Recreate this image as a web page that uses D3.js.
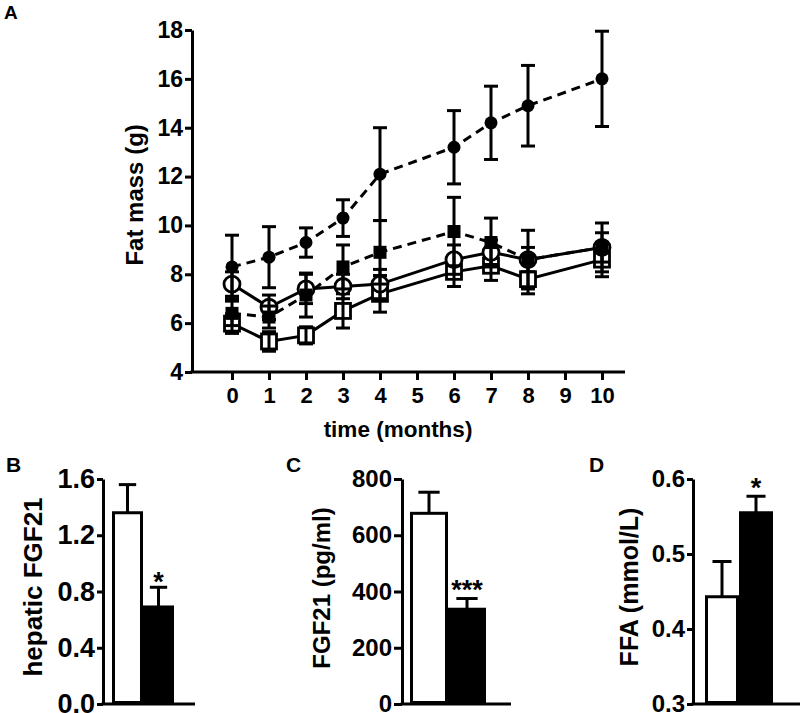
<!DOCTYPE html>
<html>
<head>
<meta charset="utf-8">
<title>Fat mass and FGF21</title>
<script src="https://d3js.org/d3.v7.min.js"></script>
<style>
  body { margin: 0; background: #fff; }
  text { font-family: "Liberation Sans", Arial, sans-serif; font-weight: bold; fill: #000; }
  .axis path, .axis line { stroke: #000; stroke-width: 3; fill: none; }
</style>
</head>
<body>
<script>
var w = 800, h = 713;

// panel A : fat mass over time
var months = [0, 1, 2, 3, 4, 6, 7, 8, 10];
var monthTicks = [0, 1, 2, 3, 4, 5, 6, 7, 8, 9, 10];
var fatTicks = [4, 6, 8, 10, 12, 14, 16, 18];
var filledCircle    = [8.3, 8.7, 9.3, 10.3, 12.1, 13.2, 14.2, 14.9, 16.0];
var filledCircleErr = [1.3, 1.25, 0.6, 0.75, 1.9, 1.5, 1.5, 1.65, 1.95];
var filledSquare    = [6.4, 6.25, 7.15, 8.3, 8.9, 9.75, 9.3, 8.6, 9.1];
var filledSquareErr = [0.5, 0.45, 0.9, 0.9, 1.3, 1.4, 1.0, 1.2, 1.0];
var openCircle      = [7.6, 6.65, 7.4, 7.5, 7.6, 8.6, 8.9, 8.6, 9.1];
var openCircleErr   = [0.5, 0.5, 0.6, 0.5, 0.6, 0.6, 0.5, 0.5, 0.6];
var openSquare      = [5.98, 5.25, 5.5, 6.5, 7.2, 8.1, 8.35, 7.8, 8.6];
var openSquareErr   = [0.4, 0.4, 0.35, 0.7, 0.75, 0.6, 0.6, 0.6, 0.7];

// panels B-D : two groups each
var groups = ["control", "treated"];
var groupFill = ["#fff", "#000"];
var hepaticFGF21 = [1.36, 0.69];
var hepaticFGF21Err = [0.2, 0.14];
var hepaticStars = ["", "*"];
var hepaticTicks = [0, 0.4, 0.8, 1.2, 1.6];
var plasmaFGF21 = [678, 337];
var plasmaFGF21Err = [75, 38];
var plasmaStars = ["", "***"];
var plasmaTicks = [0, 200, 400, 600, 800];
var ffa = [0.443, 0.555];
var ffaErr = [0.047, 0.022];
var ffaStars = ["", "*"];
var ffaTicks = [0.3, 0.4, 0.5, 0.6];

var svg = d3.select("body").append("svg")
  .attr("width", w)
  .attr("height", h);

// ---------- panel A ----------
var axisXA = 192;
var xA = d3.scaleLinear().domain([0, 10]).range([232, 602]);
var yA = d3.scaleLinear().domain([4, 18]).range([372, 30]);

svg.append("text").text("A").attr("x", 4).attr("y", 19).attr("font-size", 19);

var yAxisA = svg.append("g").attr("class", "axis")
  .attr("transform", "translate(" + axisXA + ",0)")
  .call(d3.axisLeft(yA).tickValues(fatTicks).tickSize(7).tickSizeOuter(0).tickPadding(2));
yAxisA.selectAll("text").attr("font-size", 23).style("font-family", "Liberation Sans").style("font-weight", "bold");

var xAxisA = svg.append("g").attr("class", "axis")
  .attr("transform", "translate(0," + yA(4) + ")")
  .call(d3.axisBottom(xA).tickValues(monthTicks).tickSize(8).tickPadding(7));
xAxisA.select(".domain").remove();
xAxisA.selectAll("text").attr("font-size", 22).style("font-family", "Liberation Sans").style("font-weight", "bold");
xAxisA.append("line")
  .attr("x1", axisXA - 1.5).attr("x2", xA(10) + 23)
  .attr("y1", 0).attr("y2", 0)
  .attr("stroke", "#000").attr("stroke-width", 3);

svg.append("text").text("Fat mass (g)")
  .attr("transform", "translate(143," + yA(11.25) + ") rotate(-90)")
  .attr("text-anchor", "middle").attr("font-size", 24);
svg.append("text").text("time (months)")
  .attr("x", 398).attr("y", 437)
  .attr("text-anchor", "middle").attr("font-size", 22.5);

var seriesA = [
  { vals: openSquare, err: openSquareErr, shape: "square", filled: false, dash: null },
  { vals: openCircle, err: openCircleErr, shape: "circle", filled: false, dash: null },
  { vals: filledSquare, err: filledSquareErr, shape: "square", filled: true, dash: "9,6" },
  { vals: filledCircle, err: filledCircleErr, shape: "circle", filled: true, dash: "9,6" }
];

var lineA = d3.line()
  .x(function(d) { return xA(d.m); })
  .y(function(d) { return yA(d.v); });

seriesA.forEach(function(s) {
  var pts = months.map(function(m, i) { return { m: m, v: s.vals[i], e: s.err[i] }; });
  var g = svg.append("g");
  g.append("path")
    .attr("d", lineA(pts))
    .attr("fill", "none")
    .attr("stroke", "#000")
    .attr("stroke-width", 3)
    .attr("stroke-dasharray", s.dash);

  var marks;
  if (s.shape === "circle") {
    marks = g.selectAll("circle").data(pts).enter().append("circle")
      .attr("cx", function(d) { return xA(d.m); })
      .attr("cy", function(d) { return yA(d.v); })
      .attr("r", s.filled ? 6.5 : 8);
  } else {
    var half = s.filled ? 6.5 : 7.5;
    marks = g.selectAll("rect").data(pts).enter().append("rect")
      .attr("x", function(d) { return xA(d.m) - half; })
      .attr("y", function(d) { return yA(d.v) - half; })
      .attr("width", half * 2).attr("height", half * 2);
  }
  marks.attr("fill", s.filled ? "#000" : "#fff")
    .attr("stroke", "#000")
    .attr("stroke-width", s.filled ? 0 : 2.8);

  var eb = g.selectAll("g.err").data(pts).enter().append("g").attr("class", "err")
    .attr("stroke", "#000").attr("stroke-width", 3);
  eb.append("line")
    .attr("x1", function(d) { return xA(d.m); })
    .attr("x2", function(d) { return xA(d.m); })
    .attr("y1", function(d) { return yA(d.v + d.e); })
    .attr("y2", function(d) { return yA(d.v - d.e); });
  [1, -1].forEach(function(sign) {
    eb.append("line")
      .attr("x1", function(d) { return xA(d.m) - 7; })
      .attr("x2", function(d) { return xA(d.m) + 7; })
      .attr("y1", function(d) { return yA(d.v + sign * d.e); })
      .attr("y2", function(d) { return yA(d.v + sign * d.e); });
  });
});

// ---------- bar panels ----------
function barPanel(opt) {
  var y = d3.scaleLinear().domain(opt.domain).range([704, 479]);
  var x = d3.scaleBand().domain(groups).range([opt.x0 + opt.gap, opt.x0 + opt.gap + 2 * opt.bw]);
  var g = svg.append("g");

  g.append("text").text(opt.letter).attr("x", opt.letterX).attr("y", 472).attr("font-size", 21);

  var yAx = g.append("g").attr("class", "axis")
    .attr("transform", "translate(" + opt.x0 + ",0)")
    .call(d3.axisLeft(y).tickValues(opt.ticks).tickSize(opt.tick).tickSizeOuter(0).tickPadding(2)
      .tickFormat(opt.fmt));
  yAx.selectAll("text").attr("font-size", opt.tickFont).style("font-family", "Liberation Sans").style("font-weight", "bold");

  g.append("line")
    .attr("x1", opt.x0 - 1.5).attr("x2", opt.x0 + opt.axisLen)
    .attr("y1", y(opt.domain[0])).attr("y2", y(opt.domain[0]))
    .attr("stroke", "#000").attr("stroke-width", 3);

  var rows = groups.map(function(k, i) {
    return { k: k, v: opt.vals[i], e: opt.err[i], fill: groupFill[i], star: opt.stars[i] };
  });

  g.selectAll("line.eb").data(rows).enter().append("line").attr("class", "eb")
    .attr("x1", function(d) { return x(d.k) + x.bandwidth() / 2; })
    .attr("x2", function(d) { return x(d.k) + x.bandwidth() / 2; })
    .attr("y1", function(d) { return y(d.v); })
    .attr("y2", function(d) { return y(d.v + d.e); })
    .attr("stroke", "#000").attr("stroke-width", 3);
  g.selectAll("line.cap").data(rows).enter().append("line").attr("class", "cap")
    .attr("x1", function(d) { return x(d.k) + x.bandwidth() * 0.22; })
    .attr("x2", function(d) { return x(d.k) + x.bandwidth() * 0.78; })
    .attr("y1", function(d) { return y(d.v + d.e); })
    .attr("y2", function(d) { return y(d.v + d.e); })
    .attr("stroke", "#000").attr("stroke-width", 3);

  g.selectAll("rect").data(rows).enter().append("rect")
    .attr("x", function(d) { return x(d.k) + 1.5; })
    .attr("width", x.bandwidth() - 3)
    .attr("y", function(d) { return y(d.v); })
    .attr("height", function(d) { return y(opt.domain[0]) - y(d.v) - 1.5; })
    .attr("fill", function(d) { return d.fill; })
    .attr("stroke", "#000").attr("stroke-width", 3);

  g.selectAll("text.star").data(rows).enter().append("text").attr("class", "star")
    .text(function(d) { return d.star; })
    .attr("x", function(d) { return x(d.k) + x.bandwidth() / 2; })
    .attr("y", function(d) { return y(d.v + d.e) + opt.starDy; })
    .attr("text-anchor", "middle").attr("font-size", 27);

  g.append("text").text(opt.label)
    .attr("transform", "translate(" + opt.labelX + "," + opt.labelY + ") rotate(-90)")
    .attr("text-anchor", "middle").attr("font-size", opt.labelSize);
}

barPanel({ letter: "B", letterX: 6, x0: 103, gap: 9, bw: 31, axisLen: 92,
  domain: [0, 1.6], ticks: hepaticTicks, fmt: d3.format(".1f"), tick: 6, tickFont: 27,
  vals: hepaticFGF21, err: hepaticFGF21Err, stars: hepaticStars, starDy: 4,
  label: "hepatic FGF21", labelX: 42, labelY: 587, labelSize: 26 });

barPanel({ letter: "C", letterX: 286, x0: 402, gap: 8, bw: 38, axisLen: 109,
  domain: [0, 800], ticks: plasmaTicks, fmt: d3.format("d"), tick: 8, tickFont: 24,
  vals: plasmaFGF21, err: plasmaFGF21Err, stars: plasmaStars, starDy: 0,
  label: "FGF21 (pg/ml)", labelX: 330, labelY: 588, labelSize: 24 });

barPanel({ letter: "D", letterX: 589, x0: 693, gap: 12, bw: 34, axisLen: 110,
  domain: [0.3, 0.6], ticks: ffaTicks, fmt: d3.format(".1f"), tick: 6, tickFont: 24,
  vals: ffa, err: ffaErr, stars: ffaStars, starDy: 1,
  label: "FFA (mmol/L)", labelX: 638, labelY: 587, labelSize: 25 });
</script>
</body>
</html>
